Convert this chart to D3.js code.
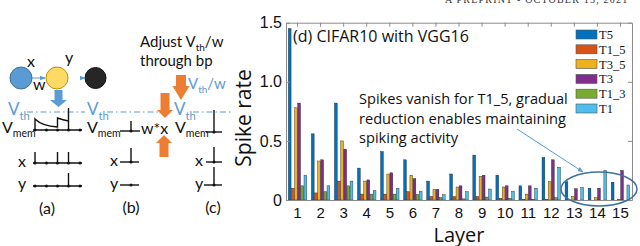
<!DOCTYPE html>
<html>
<head>
<meta charset="utf-8">
<script src="https://cdn.jsdelivr.net/npm/d3@7"></script>
<style>
  html, body { margin: 0; padding: 0; background: #fff; }
  svg { display: block; font-family: "Open Sans", sans-serif; }
</style>
</head>
<body>
<svg id="fig" width="640" height="246"></svg>
<script>
// ---- chart data ----
const layers = d3.range(1, 16).map(String);
const seriesNames = ["T5", "T1_5", "T3_5", "T3", "T1_3", "T1"];
const t5   = [1.45, 0.56, 0.82, 0.27, 0.41, 0.34, 0.16, 0.22, 0.38, 0.21, 0.12, 0.36, 0.155, 0.10, 0.15];
const t1_5 = [0.10, 0.06, 0.16, 0.05, 0.05, 0.07, 0.03, 0.03, 0.03, 0.015, 0.005, 0.005, 0, 0, 0];
const t3_5 = [0.78, 0.33, 0.50, 0.16, 0.22, 0.21, 0.09, 0.11, 0.20, 0.11, 0.05, 0.155, 0.03, 0.02, 0.005];
const t3   = [0.82, 0.34, 0.43, 0.17, 0.23, 0.18, 0.09, 0.12, 0.21, 0.12, 0.12, 0.34, 0.095, 0.10, 0.25];
const t1_3 = [0.12, 0.07, 0.12, 0.05, 0.05, 0.045, 0.02, 0.01, 0.025, 0.015, 0.005, 0.02, 0, 0, 0];
const t1   = [0.21, 0.12, 0.16, 0.08, 0.10, 0.075, 0.045, 0.07, 0.093, 0.075, 0.10, 0.277, 0.105, 0.25, 0.127];
const seriesValues = [t5, t1_5, t3_5, t3, t1_3, t1];
const seriesColors = ["#0072BD", "#D95319", "#EDB120", "#7E2F8E", "#77AC30", "#4DBEEE"];
const yTicks = [0, 0.5, 1.0, 1.5];
const yTickLabels = ["0", "0.5", "1.0", "1.5"];

const svg = d3.select("#fig");

// header of the paper page, cut by the crop
svg.append("text")
  .attr("x", 445).attr("y", 2.5)
  .attr("font-family", "Liberation Serif").attr("font-size", 10)
  .attr("letter-spacing", 1.2).attr("fill", "#333")
  .text("A PREPRINT - OCTOBER 15, 2021");

// ================= bar chart (d) =================
const x = d3.scaleBand().domain(layers).range([286, 632]);
const y = d3.scaleLinear().domain([0, 1.5]).range([200, 22.7]);
const xs = d3.scaleBand().domain(seriesNames)
  .range([0, x.bandwidth() * 0.8]).paddingInner(0.12);

const rows = layers.flatMap((l, i) =>
  seriesNames.map((s, j) => ({ layer: l, series: s, value: seriesValues[j][i], color: seriesColors[j] })));

const chart = svg.append("g");

chart.selectAll("rect.bar")
  .data(rows.filter(d => d.value > 0))
  .join("rect")
  .attr("class", "bar")
  .attr("x", d => x(d.layer) + x.bandwidth() * 0.1 + xs(d.series))
  .attr("width", xs.bandwidth())
  .attr("y", d => y(d.value))
  .attr("height", d => y(0) - y(d.value))
  .attr("fill", d => d.color)
  .attr("stroke", "#222")
  .attr("stroke-width", 0.4);

const axisColor = "#8a8a8a";

const leftAxis = chart.append("g")
  .attr("transform", "translate(286,0)")
  .call(d3.axisLeft(y).tickValues(yTicks).tickFormat((d, i) => yTickLabels[i])
    .tickSizeInner(-4).tickSizeOuter(0).tickPadding(4));
leftAxis.selectAll("text").attr("font-size", 16).attr("fill", "#111");

const rightAxis = chart.append("g")
  .attr("transform", "translate(632,0)")
  .call(d3.axisRight(y).tickValues(yTicks).tickFormat("").tickSizeInner(-4).tickSizeOuter(0));

const bottomAxis = chart.append("g")
  .attr("transform", "translate(0,200)")
  .call(d3.axisBottom(x).tickSizeInner(0).tickSizeOuter(0).tickPadding(7));
bottomAxis.selectAll("text").attr("font-size", 15).attr("fill", "#111");

const topAxis = chart.append("g")
  .attr("transform", "translate(0,22.7)")
  .call(d3.axisTop(x).tickFormat("").tickSizeInner(-4).tickSizeOuter(0));

[leftAxis, rightAxis, bottomAxis, topAxis].forEach(g => {
  g.selectAll("path.domain").attr("stroke", axisColor);
  g.selectAll("line").attr("stroke", axisColor);
});

chart.append("text")
  .attr("transform", "translate(251,118) rotate(-90)")
  .attr("text-anchor", "middle").attr("font-size", 21).attr("fill", "#111")
  .text("Spike rate");

chart.append("text")
  .attr("x", 459).attr("y", 241.5)
  .attr("text-anchor", "middle").attr("font-size", 20).attr("fill", "#111")
  .text("Layer");

chart.append("text")
  .attr("x", 293).attr("y", 42)
  .attr("font-size", 16).attr("fill", "#111")
  .text("(d) CIFAR10 with VGG16");

// legend
const legRow = chart.append("g").selectAll("g")
  .data(seriesNames)
  .join("g")
  .attr("transform", (d, i) => `translate(576,${30 + i * 14.8})`);
legRow.append("rect")
  .attr("width", 21).attr("height", 9)
  .attr("fill", (d, i) => seriesColors[i])
  .attr("stroke", "#555").attr("stroke-width", 0.6);
legRow.append("text")
  .attr("x", 23).attr("y", 9)
  .attr("font-family", "Liberation Serif").attr("font-size", 12.5).attr("fill", "#111")
  .text(d => d);

// annotation
const note = ["Spikes vanish for T1_5, gradual", "reduction enables maintaining", "spiking activity"];
chart.append("g").selectAll("text")
  .data(note)
  .join("text")
  .attr("x", 359).attr("y", (d, i) => 104 + i * 19.5)
  .attr("font-size", 14.6).attr("fill", "#111")
  .text(d => d);

svg.append("defs").append("marker")
  .attr("id", "ah").attr("viewBox", "0 0 10 10").attr("refX", 9).attr("refY", 5)
  .attr("markerWidth", 6).attr("markerHeight", 6).attr("orient", "auto")
  .append("path").attr("d", "M0,1 L10,5 L0,9 z").attr("fill", "#5B9BD5");

chart.append("line")
  .attr("x1", 517).attr("y1", 129).attr("x2", 583).attr("y2", 172)
  .attr("stroke", "#5B9BD5").attr("stroke-width", 1)
  .attr("marker-end", "url(#ah)");

chart.append("ellipse")
  .attr("cx", 599).attr("cy", 189).attr("rx", 38).attr("ry", 17)
  .attr("fill", "none").attr("stroke", "#41719C").attr("stroke-width", 1.5);

// ================= schematic (a)-(c) =================
const dia = svg.append("g").attr("font-family", "Lato, sans-serif");
const lightBlue = "#5B9BD5";
const orange = "#ED7D31";

function blockArrow(cx, yStart, yTip, shaftW, headW, headLen, color) {
  const s = Math.sign(yTip - yStart);
  const yh = yTip - s * headLen;
  const pts = [
    [cx - shaftW / 2, yStart], [cx + shaftW / 2, yStart], [cx + shaftW / 2, yh],
    [cx + headW / 2, yh], [cx, yTip], [cx - headW / 2, yh], [cx - shaftW / 2, yh]
  ];
  dia.append("polygon").attr("points", pts.map(p => p.join(",")).join(" "))
    .attr("fill", color);
}

function label(xp, yp, main, sub, size, color) {
  const t = dia.append("text").attr("x", xp).attr("y", yp)
    .attr("font-size", size).attr("fill", color || "#111");
  t.append("tspan").text(main);
  if (sub) t.append("tspan").attr("dy", size * 0.28).attr("font-size", size * 0.66).text(sub);
}

function spikeRow(x0, x1, yAxis, dots, spikes, spikeTop) {
  dia.append("line").attr("x1", x0).attr("x2", x1).attr("y1", yAxis).attr("y2", yAxis)
    .attr("stroke", "#111").attr("stroke-width", 1.4);
  dots.forEach(d => dia.append("circle").attr("cx", d).attr("cy", yAxis).attr("r", 1.5).attr("fill", "#111"));
  spikes.forEach(s => dia.append("line").attr("x1", s).attr("x2", s).attr("y1", yAxis).attr("y2", spikeTop)
    .attr("stroke", "#111").attr("stroke-width", 1.4));
}

// neurons
dia.append("circle").attr("cx", 21).attr("cy", 78).attr("r", 11).attr("fill", "#5B9BD5").attr("stroke", "#41719C");
dia.append("circle").attr("cx", 57).attr("cy", 78).attr("r", 11).attr("fill", "#FFD966").attr("stroke", "#BF9000");
dia.append("circle").attr("cx", 95.5).attr("cy", 78).attr("r", 10.5).attr("fill", "#262626").attr("stroke", "#111");
dia.append("line").attr("x1", 32).attr("y1", 78).attr("x2", 45).attr("y2", 78)
  .attr("stroke", lightBlue).attr("stroke-width", 1).attr("marker-end", "url(#ah)");
dia.append("line").attr("x1", 80).attr("y1", 78).attr("x2", 85).attr("y2", 78)
  .attr("stroke", lightBlue).attr("stroke-width", 1).attr("marker-end", "url(#ah)");
label(27, 67, "x", null, 16);
label(65, 63, "y", null, 16);
label(33, 90, "w", null, 16);

blockArrow(58.5, 90, 107, 8, 17, 7, lightBlue);

// threshold line
[[27, 85], [107, 158], [193, 232]].forEach(([a, b]) =>
  dia.append("line").attr("x1", a).attr("x2", b).attr("y1", 112).attr("y2", 112)
    .attr("stroke", lightBlue).attr("stroke-width", 1.2).attr("stroke-dasharray", "6,3,1.5,3"));
label(8, 115, "V", "th", 17, lightBlue);
label(87, 115, "V", "th", 17, lightBlue);
label(174, 115, "V", "th", 17, lightBlue);

// (a)
label(2, 133, "V", "mem", 16);
spikeRow(33, 82, 130, [35, 46.5, 57.5, 68.5, 80], [], 0);
dia.append("path")
  .attr("d", "M35,130 V119 Q42,126 57.5,127 V118 Q63,120 68.5,121 V108 V130")
  .attr("fill", "none").attr("stroke", "#111").attr("stroke-width", 1.4);
label(18, 167, "x", null, 16);
spikeRow(33, 82, 163, [35, 46.5, 57.5, 68.5, 80], [35, 57.5, 68.5], 152);
label(18, 189, "y", null, 16);
spikeRow(33, 82, 186, [35, 46.5, 57.5, 68.5, 80], [68.5], 173);
dia.append("text").attr("x", 47).attr("y", 214).attr("text-anchor", "middle")
  .attr("font-size", 16).attr("fill", "#111").text("(a)");

// (b)
label(87, 133, "V", "mem", 16);
spikeRow(120, 140, 131, [131], [131], 121);
label(141, 134, "w*x", null, 16);
label(110, 166, "x", null, 16);
spikeRow(120, 139, 162, [131], [131], 148);
label(110, 189, "y", null, 16);
spikeRow(120, 139, 185, [131], [], 0);
dia.append("text").attr("x", 131).attr("y", 213).attr("text-anchor", "middle")
  .attr("font-size", 16).attr("fill", "#111").text("(b)");

// (c)
label(175, 133, "V", "mem", 16);
spikeRow(206, 222, 132, [214], [214], 110);
label(195, 166, "x", null, 16);
spikeRow(206, 222, 162, [214], [214], 147);
label(195, 189, "y", null, 16);
spikeRow(204, 222, 185, [214], [214], 167);
dia.append("text").attr("x", 213).attr("y", 213).attr("text-anchor", "middle")
  .attr("font-size", 16).attr("fill", "#111").text("(c)");

// orange adjustment arrows
blockArrow(165, 93, 118, 9, 16, 8, orange);
blockArrow(164, 157, 135, 9, 16, 8, orange);
blockArrow(181, 75, 100, 10, 17, 14, orange);
const adj = dia.append("text").attr("x", 140).attr("y", 47).attr("font-size", 15).attr("fill", "#111");
adj.append("tspan").text("Adjust V");
adj.append("tspan").attr("dy", 3.5).attr("font-size", 10).text("th");
adj.append("tspan").attr("dy", -3.5).text("/w");
dia.append("text").attr("x", 140).attr("y", 66).attr("font-size", 15).attr("fill", "#111").text("through bp");
const vw = dia.append("text").attr("x", 188).attr("y", 89).attr("font-size", 15).attr("fill", lightBlue);
vw.append("tspan").text("V");
vw.append("tspan").attr("dy", 4).attr("font-size", 10).text("th");
vw.append("tspan").attr("dy", -4).text("/w");
</script>
</body>
</html>
